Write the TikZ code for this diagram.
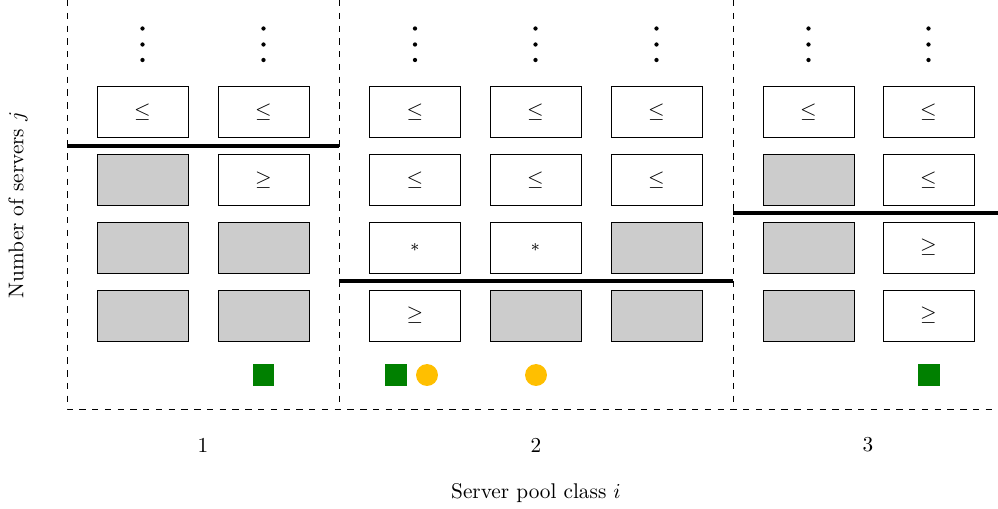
\documentclass[tikz,border=0pt]{standalone}
\usepackage{amsmath}
\usetikzlibrary{positioning}
\definecolor{amber}{RGB}{255,191,0}
\definecolor{leafgreen}{RGB}{0,128,0}

\begin{document}
\begin{tikzpicture}[
        x=0.47pt, y=-0.47pt,
        cell/.style={draw, minimum width=42.8pt, minimum height=24pt, inner sep=0pt},
        full/.style={cell, fill=black!20},
        pool/.style={dashed},
        cut/.style={line width=2pt},
        idle/.style={fill=leafgreen, minimum size=10.3pt, inner sep=0pt},
        wait/.style={circle, fill=amber, minimum size=10.3pt, inner sep=0pt}
    ]
        \useasboundingbox (0,0) rectangle (998,508);
        % pool borders
        \draw[pool] (67,0) -- (67,409) -- (998,409);
        \draw[pool] (339,0) -- (339,409);
        \draw[pool] (733,0) -- (733,409);
        % class 1
        \node[cell] (a1) at (142.5,112) {$\le$};
        \node[full] (a2) at (142.5,180) {};
        \node[full] (a3) at (142.5,247.5) {};
        \node[full] (a4) at (142.5,315.5) {};
        \node[cell] (b1) at (263.5,112) {$\le$};
        \node[cell] (b2) at (263.5,180) {$\ge$};
        \node[full] (b3) at (263.5,247.5) {};
        \node[full] (b4) at (263.5,315.5) {};
        % class 2
        \node[cell] (c1) at (415,112) {$\le$};
        \node[cell] (c2) at (415,180) {$\le$};
        \node[cell] (c3) at (415,247.5) {\footnotesize $*$};
        \node[cell] (c4) at (415,315.5) {$\ge$};
        \node[cell] (d1) at (535.5,112) {$\le$};
        \node[cell] (d2) at (535.5,180) {$\le$};
        \node[cell] (d3) at (535.5,247.5) {\footnotesize $*$};
        \node[full] (d4) at (535.5,315.5) {};
        \node[cell] (e1) at (656.5,112) {$\le$};
        \node[cell] (e2) at (656.5,180) {$\le$};
        \node[full] (e3) at (656.5,247.5) {};
        \node[full] (e4) at (656.5,315.5) {};
        % class 3
        \node[cell] (f1) at (808.5,112) {$\le$};
        \node[full] (f2) at (808.5,180) {};
        \node[full] (f3) at (808.5,247.5) {};
        \node[full] (f4) at (808.5,315.5) {};
        \node[cell] (g1) at (928.5,112) {$\le$};
        \node[cell] (g2) at (928.5,180) {$\le$};
        \node[cell] (g3) at (928.5,247.5) {$\ge$};
        \node[cell] (g4) at (928.5,315.5) {$\ge$};
        % more servers above
        \foreach \cx in {142.5,263.5,415,535.5,656.5,808.5,928.5}
            \foreach \cy in {28.5,44.5,60}
                \fill (\cx,\cy) circle (1pt);
        % thresholds
        \draw[cut] (67,146) -- (339,146);
        \draw[cut] (339,281) -- (733,281);
        \draw[cut] (733,213) -- (998,213);
        % markers
        \node[idle] (s1) at (263.5,375) {};
        \node[idle] (s2) at (396,375) {};
        \node[wait] (w1) at (427,375) {};
        \node[wait] (w2) at (536,375) {};
        \node[idle] (s3) at (929,375) {};
        % labels
        \node (k1) at (203,445) {1};
        \node (k2) at (536,445) {2};
        \node (k3) at (868,445) {3};
        \node (xlab) at (536,493) {Server pool class $i$};
        \node[rotate=90] (ylab) at (18,205) {Number of servers $j$};
    \end{tikzpicture}
\end{document}
